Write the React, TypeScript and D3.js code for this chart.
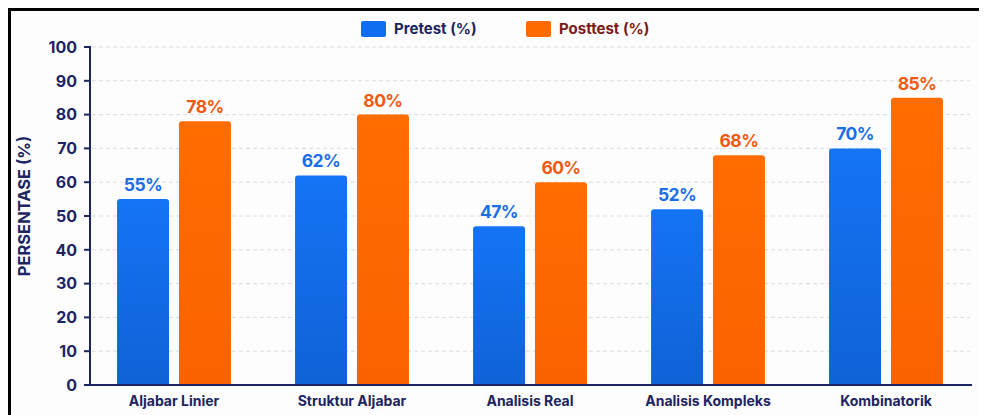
import React, { useRef, useEffect } from 'react';
import * as d3 from 'd3';

const categories = ['Aljabar Linier', 'Struktur Aljabar', 'Analisis Real', 'Analisis Kompleks', 'Kombinatorik'];
const pretest = [55, 62, 47, 52, 70];
const posttest = [78, 80, 60, 68, 85];
const seriesNames = ['Pretest (%)', 'Posttest (%)'];
const yTicks = [0, 10, 20, 30, 40, 50, 60, 70, 80, 90, 100];

export default function App(): JSX.Element {
  const svgRef = useRef<SVGSVGElement>(null);
  useEffect(() => {
    const svgEle = svgRef.current;
    if (svgEle == null) {
      return;
    }
    const svg = d3.select(svgEle);
    svg.selectAll('*').remove();
    // page coordinates (body margin is 8px)
    const g = svg.append('g').attr('transform', 'translate(-8,-8)');
    const font = 'Inter, "Noto Sans", sans-serif';
    const navy = '#1c2463';

    // background + frame
    g.append('rect').attr('x', 8).attr('y', 8).attr('width', 980).attr('height', 420).attr('fill', '#fdfdfd');
    g.append('line').attr('x1', 8).attr('x2', 988).attr('y1', 9.5).attr('y2', 9.5).attr('stroke', '#000').attr('stroke-width', 3);
    g.append('line').attr('x1', 9.5).attr('x2', 9.5).attr('y1', 8).attr('y2', 420).attr('stroke', '#000').attr('stroke-width', 3);

    const x0 = d3.scaleBand().domain(categories).range([85, 975]).paddingInner(0.36).paddingOuter(0.18);
    const x1 = d3.scaleBand().domain(seriesNames).range([0, x0.bandwidth()]).paddingInner(0.16);
    const y = d3.scaleLinear().domain([0, 100]).range([385, 47]);

    // gridlines
    g.selectAll('line.grid')
      .data(yTicks.filter((t) => t > 0))
      .join('line')
      .attr('class', 'grid')
      .attr('x1', 92)
      .attr('x2', 970)
      .attr('y1', (d) => y(d))
      .attr('y2', (d) => y(d))
      .attr('stroke', '#dcdcdc')
      .attr('stroke-width', 1)
      .attr('stroke-dasharray', '4 3');

    // y axis
    g.append('line').attr('x1', 90).attr('x2', 90).attr('y1', y(100) - 1).attr('y2', y(0)).attr('stroke', navy).attr('stroke-width', 2);
    g.selectAll('line.ytick')
      .data(yTicks)
      .join('line')
      .attr('class', 'ytick')
      .attr('x1', 84)
      .attr('x2', 90)
      .attr('y1', (d) => y(d))
      .attr('y2', (d) => y(d))
      .attr('stroke', navy)
      .attr('stroke-width', 2);
    g.selectAll('text.ylab')
      .data(yTicks)
      .join('text')
      .attr('class', 'ylab')
      .attr('x', 77)
      .attr('y', (d) => y(d))
      .attr('dy', '0.36em')
      .attr('text-anchor', 'end')
      .attr('font-family', font)
      .attr('font-weight', 700)
      .attr('font-size', 16)
      .attr('fill', navy)
      .text((d) => d);
    g.append('text')
      .attr('transform', `translate(30, ${y(50) - 10}) rotate(-90)`)
      .attr('text-anchor', 'middle')
      .attr('font-family', font)
      .attr('font-weight', 700)
      .attr('font-size', 16.5)
      .attr('fill', navy)
      .text('PERSENTASE (%)');

    // bars
    const defs = svg.append('defs');
    const gradBlue = defs.append('linearGradient').attr('id', 'gBlue').attr('x1', 0).attr('x2', 0).attr('y1', 0).attr('y2', 1);
    gradBlue.append('stop').attr('offset', '0%').attr('stop-color', '#1474f5');
    gradBlue.append('stop').attr('offset', '100%').attr('stop-color', '#1062d6');
    const gradOrange = defs.append('linearGradient').attr('id', 'gOrange').attr('x1', 0).attr('x2', 0).attr('y1', 0).attr('y2', 1);
    gradOrange.append('stop').attr('offset', '0%').attr('stop-color', '#ff6d00');
    gradOrange.append('stop').attr('offset', '100%').attr('stop-color', '#fa6200');

    const fills = ['url(#gBlue)', 'url(#gOrange)'];
    const labelColors = ['#1b6ee8', '#ee5a12'];
    const values = [pretest, posttest];
    const r = 3;
    const bw = x1.bandwidth();

    seriesNames.forEach((s, si) => {
      const data = categories.map((c, i) => ({ c, v: values[si][i] }));
      g.selectAll(`path.bar${si}`)
        .data(data)
        .join('path')
        .attr('class', `bar${si}`)
        .attr('d', (d) => {
          const bx = (x0(d.c) as number) + (x1(s) as number);
          const top = y(d.v);
          const bottom = y(0);
          return `M${bx},${bottom}V${top + r}Q${bx},${top} ${bx + r},${top}H${bx + bw - r}Q${bx + bw},${top} ${bx + bw},${top + r}V${bottom}Z`;
        })
        .attr('fill', fills[si]);
      g.selectAll(`text.val${si}`)
        .data(data)
        .join('text')
        .attr('class', `val${si}`)
        .attr('x', (d) => (x0(d.c) as number) + (x1(s) as number) + bw / 2)
        .attr('y', (d) => y(d.v) - 8)
        .attr('text-anchor', 'middle')
        .attr('font-family', font)
        .attr('font-weight', 700)
        .attr('font-size', 17.5)
        .attr('letter-spacing', -0.6)
        .attr('fill', labelColors[si])
        .text((d) => `${d.v}%`);
    });

    // x axis baseline
    g.append('line').attr('x1', 89).attr('x2', 972).attr('y1', y(0)).attr('y2', y(0)).attr('stroke', navy).attr('stroke-width', 2);
    g.selectAll('text.xlab')
      .data(categories)
      .join('text')
      .attr('class', 'xlab')
      .attr('x', (d) => (x0(d) as number) + x0.bandwidth() / 2)
      .attr('y', 406)
      .attr('text-anchor', 'middle')
      .attr('font-family', font)
      .attr('font-weight', 700)
      .attr('font-size', 14)
      .attr('fill', navy)
      .text((d) => d);

    // legend
    const legendX = [361, 526];
    const legendFill = ['#0f6ef0', '#ff6a00'];
    const legendText = [navy, '#7a1a1a'];
    seriesNames.forEach((s, si) => {
      g.append('rect')
        .attr('x', legendX[si])
        .attr('y', 21)
        .attr('width', 25)
        .attr('height', 16)
        .attr('rx', 2)
        .attr('fill', legendFill[si]);
      g.append('text')
        .attr('x', legendX[si] + 33)
        .attr('y', 29)
        .attr('dy', '0.36em')
        .attr('font-family', font)
        .attr('font-weight', 700)
        .attr('font-size', 15)
        .attr('fill', legendText[si])
        .text(s);
    });
  }, []);
  return <svg ref={svgRef} width={979} height={407} style={{ display: 'block' }} />;
}
